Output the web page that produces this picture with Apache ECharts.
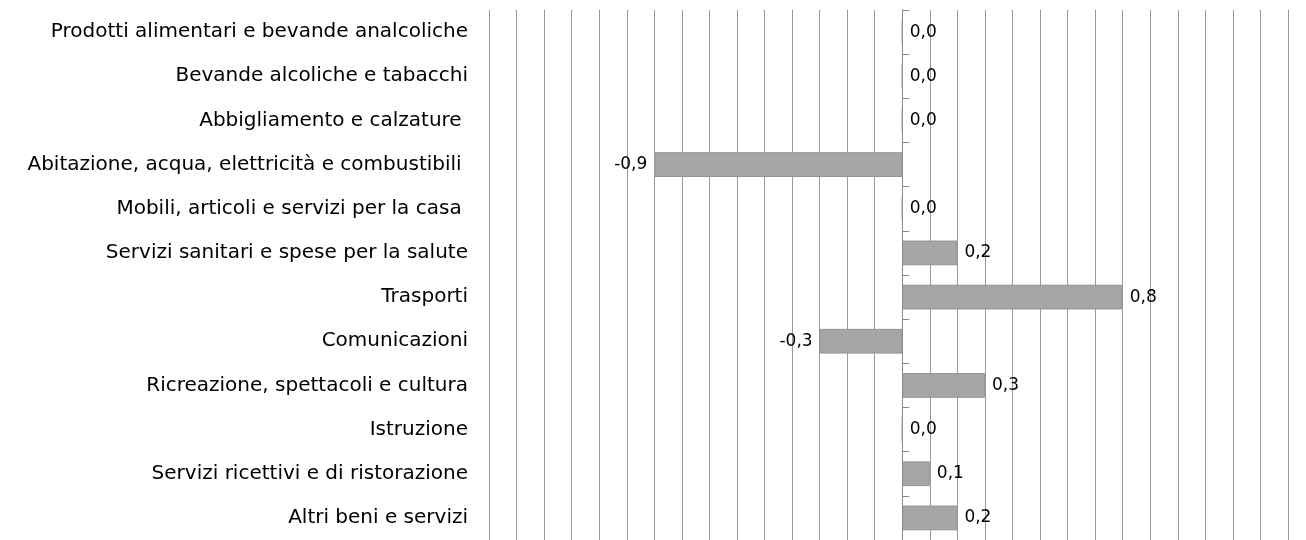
<!DOCTYPE html>
<html>
<head>
<meta charset="utf-8">
<script src="https://cdn.jsdelivr.net/npm/echarts@6/dist/echarts.min.js"></script>
<style>
  html, body { margin: 0; padding: 0; background: #fff; }
  #chart { width: 1306px; height: 540px; }
</style>
</head>
<body>
<div id="chart"></div>
<script>
// categorie (dall'alto in basso)
var categories = [
    'Prodotti alimentari e bevande analcoliche',
    'Bevande alcoliche e tabacchi',
    'Abbigliamento e calzature ',
    'Abitazione, acqua, elettricità e combustibili ',
    'Mobili, articoli e servizi per la casa ',
    'Servizi sanitari e spese per la salute',
    'Trasporti',
    'Comunicazioni',
    'Ricreazione, spettacoli e cultura',
    'Istruzione',
    'Servizi ricettivi e di ristorazione',
    'Altri beni e servizi'
];
var values = [0.0, 0.0, 0.0, -0.9, 0.0, 0.2, 0.8, -0.3, 0.3, 0.0, 0.1, 0.2];

var axisMin = -1.5;
var axisMax = 1.4;
var axisStep = 0.1;

var chart = echarts.init(document.getElementById('chart'));

var barData = [];
for (var i = 0; i < values.length; i++) {
    barData.push({
        value: values[i],
        label: { position: values[i] < 0 ? 'left' : 'right' }
    });
}

var option = {
    animation: false,
    textStyle: { fontFamily: 'DejaVu Sans' },
    grid: {
        left: 489,
        right: 18,
        top: 10,
        height: 534,
        containLabel: false
    },
    xAxis: {
        type: 'value',
        min: axisMin,
        max: axisMax,
        interval: axisStep,
        axisLabel: { show: false },
        axisLine: { show: false },
        axisTick: { show: false },
        splitLine: { show: true, lineStyle: { color: '#999', width: 1 } }
    },
    yAxis: [{
        type: 'category',
        data: categories,
        inverse: true,
        position: 'left',
        axisLine: { show: false, onZero: false },
        axisTick: { show: false },
        axisLabel: {
            margin: 21,
            fontSize: 20,
            color: '#000',
            padding: [8, 0, 0, 0],
            fontFamily: 'DejaVu Sans'
        }
    }, {
        type: 'category',
        data: categories,
        inverse: true,
        axisLine: { show: true, onZero: true, lineStyle: { color: '#888', width: 1 } },
        axisTick: { show: true, length: 7, inside: false, lineStyle: { color: '#888' } },
        axisLabel: { show: false }
    }],
    series: [{
        type: 'bar',
        yAxisIndex: 0,
        data: barData,
        barWidth: '56%',
        itemStyle: {
            color: '#a6a6a6',
            borderColor: '#939393',
            borderWidth: 1
        },
        label: {
            show: true,
            fontSize: 17,
            color: '#000',
            distance: 7,
            fontFamily: 'DejaVu Sans',
            formatter: function (p) {
                return p.value.toFixed(1).replace('.', ',');
            }
        }
    }]
};

chart.setOption(option);
</script>
</body>
</html>
